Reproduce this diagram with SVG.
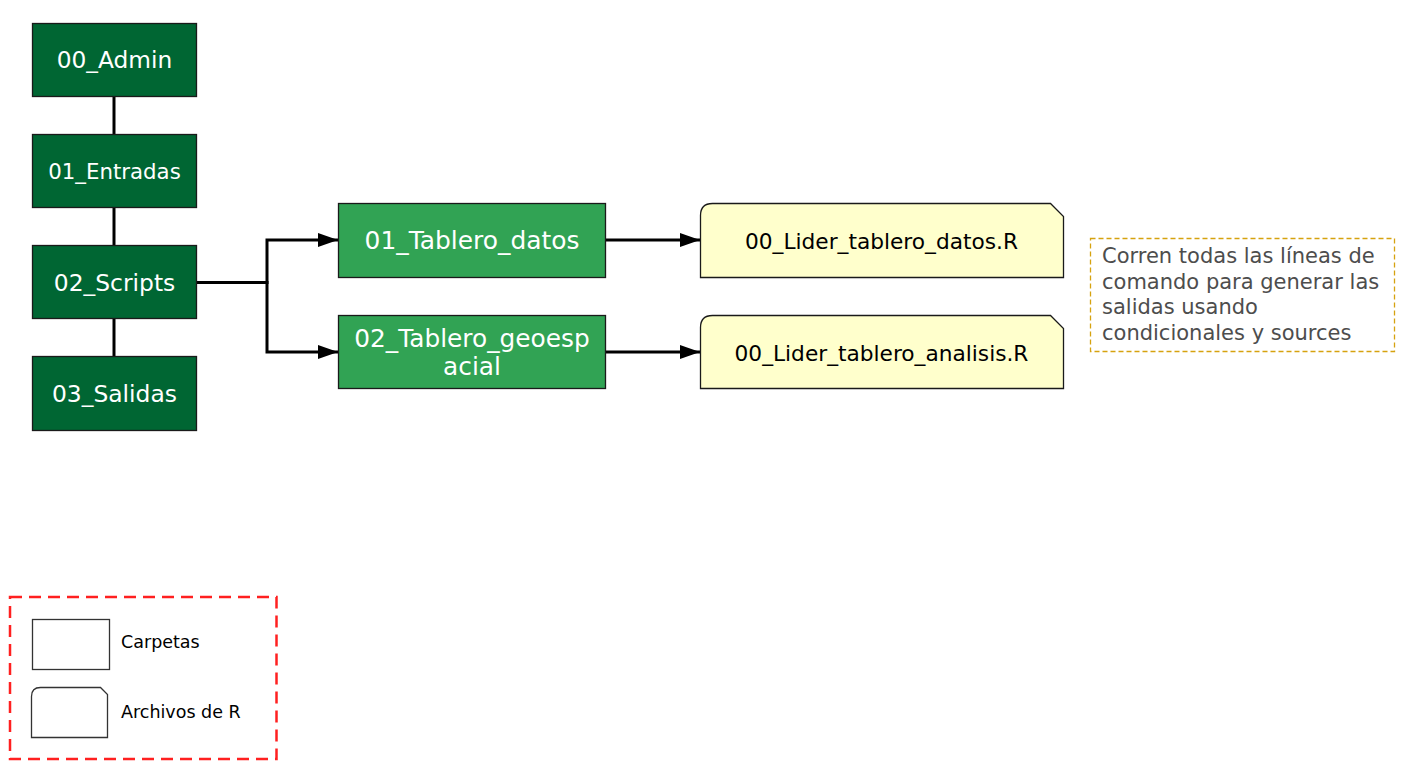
<svg xmlns="http://www.w3.org/2000/svg" width="1407" height="777" viewBox="0 0 1407 777">
<style>
.dark{fill:#006633;stroke:#1a1a1a;stroke-width:1.3}
.mid{fill:#31a354;stroke:#1a1a1a;stroke-width:1.3}
.file{fill:#ffffcc;stroke:#1a1a1a;stroke-width:1.3}
.wt{font-family:"DejaVu Sans",Verdana,sans-serif;fill:#ffffff;text-anchor:middle}
.bt{font-family:"DejaVu Sans",Verdana,sans-serif;fill:#000000;text-anchor:middle;font-size:21.7px}
.note{font-family:"DejaVu Sans",Verdana,sans-serif;fill:#4d4d4d;font-size:21px}
.leg{font-family:"DejaVu Sans",Verdana,sans-serif;fill:#000000;font-size:17.5px}
.conn{fill:none;stroke:#000000;stroke-width:3}
</style>
<defs>
<marker id="arr" viewBox="0 0 20 14" refX="20" refY="7" markerWidth="20" markerHeight="14" markerUnits="userSpaceOnUse" orient="auto">
<path d="M0,0 L20,7 L0,14 Z" fill="#000000"/>
</marker>
</defs>
<rect width="1407" height="777" fill="#ffffff"/>
<g id="connectors">
<line class="conn" x1="114" y1="96" x2="114" y2="134"/>
<line class="conn" x1="114" y1="207" x2="114" y2="245"/>
<line class="conn" x1="114" y1="318" x2="114" y2="356"/>
<polyline class="conn" points="196,282.5 267,282.5 267,240 338,240" marker-end="url(#arr)"/>
<polyline class="conn" points="196,282.5 267,282.5 267,352 338,352" marker-end="url(#arr)"/>
<line class="conn" x1="605" y1="240" x2="700" y2="240" marker-end="url(#arr)"/>
<line class="conn" x1="605" y1="352" x2="700" y2="352" marker-end="url(#arr)"/>
</g>
<g id="n00_admin">
<rect class="dark" x="32.5" y="23.5" width="164" height="73"/>
<text class="wt" x="114.5" y="68" font-size="23.3">00_Admin</text>
</g>
<g id="n01_entradas">
<rect class="dark" x="32.5" y="134.5" width="164" height="73"/>
<text class="wt" x="114.5" y="178.5" font-size="21.3">01_Entradas</text>
</g>
<g id="n02_scripts">
<rect class="dark" x="32.5" y="245.5" width="164" height="73"/>
<text class="wt" x="114.5" y="290.5" font-size="23.4">02_Scripts</text>
</g>
<g id="n03_salidas">
<rect class="dark" x="32.5" y="356.5" width="164" height="74"/>
<text class="wt" x="114.5" y="401.5" font-size="23.4">03_Salidas</text>
</g>
<g id="n01_tablero_datos">
<rect class="mid" x="338.5" y="203.5" width="267" height="74"/>
<text class="wt" x="472" y="249" font-size="24.9">01_Tablero_datos</text>
</g>
<g id="n02_tablero_geoespacial">
<rect class="mid" x="338.5" y="315.5" width="267" height="73"/>
<text class="wt" x="472" y="346.5" font-size="24.8">02_Tablero_geoesp</text>
<text class="wt" x="472" y="375" font-size="24.8">acial</text>
</g>
<g id="f_lider_datos">
<path class="file" d="M712.5,203.5 H1050.5 L1063.5,216.5 V277.5 H700.5 V215.5 Q700.5,203.5 712.5,203.5 Z"/>
<text class="bt" x="881.5" y="248.5">00_Lider_tablero_datos.R</text>
</g>
<g id="f_lider_analisis">
<path class="file" d="M712.5,315.5 H1050.5 L1063.5,328.5 V388.5 H700.5 V327.5 Q700.5,315.5 712.5,315.5 Z"/>
<text class="bt" x="881.5" y="360.5">00_Lider_tablero_analisis.R</text>
</g>
<g id="note">
<rect x="1090.5" y="238.5" width="304" height="113" fill="none" stroke="#d6a20f" stroke-width="1.3" stroke-dasharray="5,3"/>
<text class="note" x="1102" y="263">Corren todas las líneas de</text>
<text class="note" x="1102" y="289">comando para generar las</text>
<text class="note" x="1102" y="314">salidas usando</text>
<text class="note" x="1102" y="340">condicionales y sources</text>
</g>
<g id="legend">
<rect x="10" y="597" width="266.5" height="162" fill="none" stroke="#ff2020" stroke-width="2.5" stroke-dasharray="12,7"/>
<rect x="32.5" y="619.5" width="77" height="50" fill="#ffffff" stroke="#333333" stroke-width="1.3"/>
<text class="leg" x="121" y="648">Carpetas</text>
<path d="M40.5,687.5 H100.5 L107.5,694.5 V737.5 H31.5 V696.5 Q31.5,687.5 40.5,687.5 Z" fill="#ffffff" stroke="#333333" stroke-width="1.3"/>
<text class="leg" x="121" y="718">Archivos de R</text>
</g>
</svg>
